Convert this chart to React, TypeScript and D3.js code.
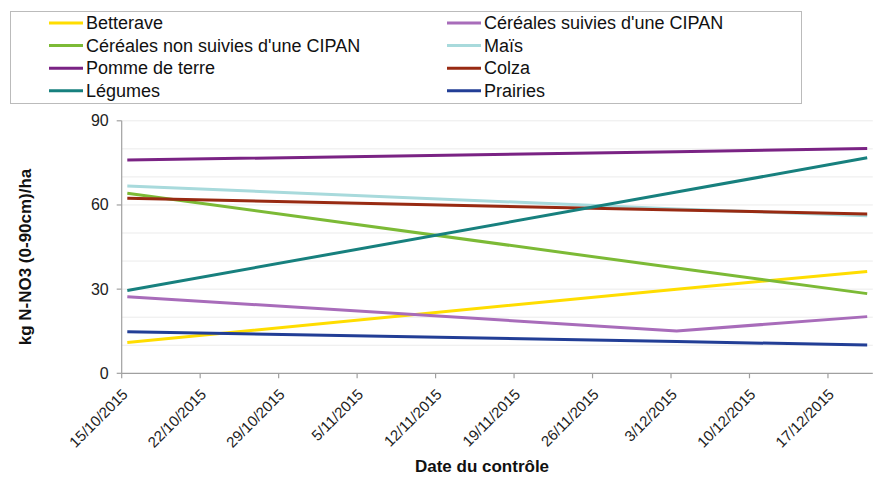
import React from "react";
import * as d3 from "d3";

const dates = ["2015-10-15", "2015-12-03", "2015-12-20"];
const seriesNames = [
  "Betterave",
  "Céréales suivies d'une CIPAN",
  "Céréales non suivies d'une CIPAN",
  "Maïs",
  "Pomme de terre",
  "Colza",
  "Légumes",
  "Prairies",
];
const betterave = [11.0, 30.0, 36.3];
const cerealesSuivies = [27.3, 15.1, 20.2];
const cerealesNonSuivies = [64.2, 37.5, 28.4];
const mais = [66.8, 58.6, 56.2];
const pommeDeTerre = [76.0, 79.0, 80.1];
const colza = [62.4, 58.2, 56.8];
const legumes = [29.5, 64.6, 76.8];
const prairies = [14.8, 11.3, 10.1];
const seriesValues = [betterave, cerealesSuivies, cerealesNonSuivies, mais, pommeDeTerre, colza, legumes, prairies];
const colors = ["#FFDD00", "#A86CBA", "#7CBA36", "#A8DADC", "#7A2384", "#982A12", "#17807E", "#223E96"];
const tickDates = ["2015-10-15", "2015-10-22", "2015-10-29", "2015-11-05", "2015-11-12", "2015-11-19", "2015-11-26", "2015-12-03", "2015-12-10", "2015-12-17"];
const yTicks = [0, 30, 60, 90];
const yGrid = [10, 20, 30, 40, 50, 60, 70, 80, 90];

const parse = d3.utcParse("%Y-%m-%d");
const fmt = d3.utcFormat("%-d/%m/%Y");

export default function App() {
  const W = 881, H = 477;
  const x0 = 121.7, x1 = 872.8, yTop = 120.8, yBot = 373.3;
  const x = d3.scaleUtc().domain([parse("2015-10-15")!, parse("2015-12-21")!]).range([x0, x1]);
  const y = d3.scaleLinear().domain([0, 90]).range([yBot, yTop]);
  const halfDay = 12 * 3600 * 1000;
  const line = d3
    .line<[Date, number]>()
    .x((d) => x(new Date(d[0].getTime() + halfDay)))
    .y((d) => y(d[1]));
  const font = "'Liberation Sans', Arial, sans-serif";
  const legendCols = [
    [0, 2, 4, 6],
    [1, 3, 5, 7],
  ];
  const colX = [49, 447];
  const rowY = [23, 45.6, 68.2, 90.8];
  return (
    <svg width={W} height={H} style={{ position: "absolute", left: 0, top: 0, background: "#fff" }} fontFamily={font}>
      <rect x={10.5} y={11.5} width={791} height={92} fill="#fff" stroke="#BBBBBB" strokeWidth={1} />
      {legendCols.map((col, ci) =>
        col.map((si, ri) => (
          <g key={si}>
            <line x1={colX[ci]} x2={colX[ci] + 34} y1={rowY[ri]} y2={rowY[ri]} stroke={colors[si]} strokeWidth={3} />
            <text x={colX[ci] + 37} y={rowY[ri]} dominantBaseline="central" fontSize={18} fill="#111">
              {seriesNames[si]}
            </text>
          </g>
        ))
      )}
      {yGrid.map((v) => (
        <line key={v} x1={x0} x2={x1} y1={y(v)} y2={y(v)} stroke="#EBEBEB" strokeWidth={1} />
      ))}
      <line x1={x0} x2={x0} y1={yTop} y2={yBot} stroke="#A0A0A0" strokeWidth={1.2} />
      <line x1={x0} x2={x1} y1={yBot} y2={yBot} stroke="#A0A0A0" strokeWidth={1.2} />
      {yTicks.map((v) => (
        <g key={v}>
          <line x1={x0 - 5} x2={x0} y1={y(v)} y2={y(v)} stroke="#A0A0A0" strokeWidth={1.2} />
          <text x={x0 - 13} y={y(v)} textAnchor="end" dominantBaseline="central" fontSize={16} fill="#222">
            {v}
          </text>
        </g>
      ))}
      {tickDates.map((s) => {
        const d = parse(s)!;
        const tx = x(d);
        return (
          <g key={s}>
            <line x1={tx} x2={tx} y1={yBot} y2={yBot + 5} stroke="#A0A0A0" strokeWidth={1.2} />
            <text transform={`translate(${tx + 7},${yBot + 22}) rotate(-45)`} textAnchor="end" fontSize={15} fill="#222">
              {fmt(d)}
            </text>
          </g>
        );
      })}
      {seriesValues.map((vals, i) => (
        <path
          key={i}
          d={line(vals.map((v, j) => [parse(dates[j])!, v] as [Date, number]))!}
          fill="none"
          stroke={colors[i]}
          strokeWidth={3}
          strokeLinejoin="round"
        />
      ))}
      <text transform="translate(25,257) rotate(-90)" textAnchor="middle" dominantBaseline="central" fontSize={17} fontWeight="bold" fill="#111">
        kg N-NO3 (0-90cm)/ha
      </text>
      <text x={482} y={472} textAnchor="middle" fontSize={17} fontWeight="bold" fill="#111">
        Date du contrôle
      </text>
    </svg>
  );
}
